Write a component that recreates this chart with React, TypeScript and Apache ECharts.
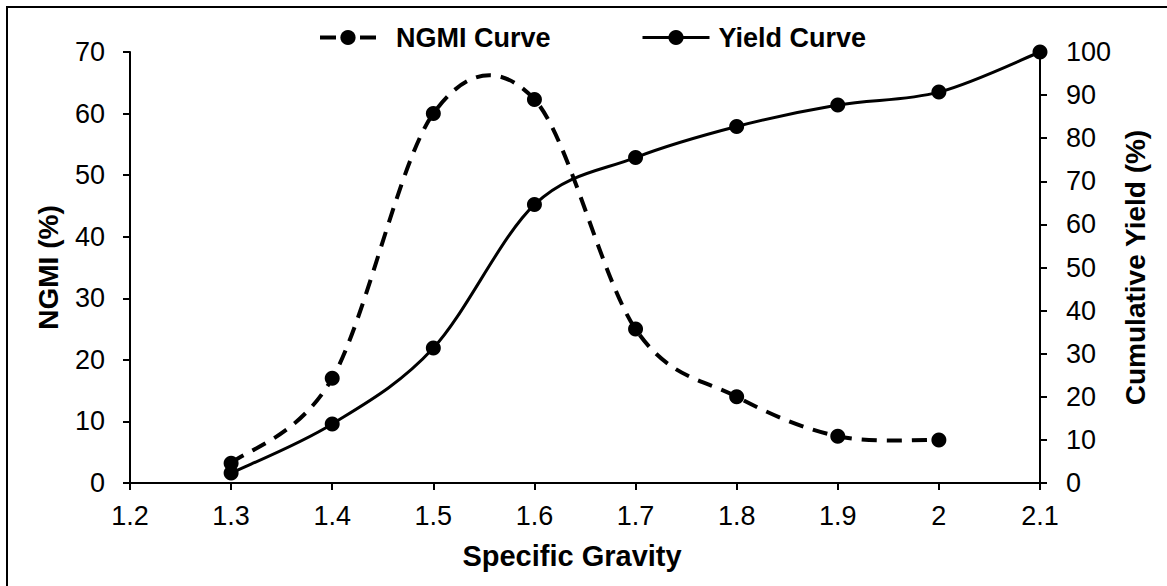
import React, { useEffect, useRef } from "react";
import * as echarts from "echarts";

// Specific gravity (x) values
const ngmiSG = [1.3, 1.4, 1.5, 1.6, 1.7, 1.8, 1.9, 2.0];
const yieldSG = [1.3, 1.4, 1.5, 1.6, 1.7, 1.8, 1.9, 2.0, 2.1];
// Series values
const ngmiValues = [3.2, 17, 60, 62.3, 25, 14, 7.6, 7];
const yieldValues = [2.3, 13.7, 31.3, 64.6, 75.5, 82.7, 87.7, 90.7, 100];
// Axis ranges
const xRange = { min: 1.2, max: 2.1, interval: 0.1 };
const leftRange = { min: 0, max: 70, interval: 10 };
const rightRange = { min: 0, max: 100, interval: 10 };

const FONT = "'Liberation Sans', Arial, sans-serif";

function smoothPath(pts: number[][]): string {
  let d = `M${pts[0][0]},${pts[0][1]}`;
  for (let i = 0; i < pts.length - 1; i++) {
    const p0 = pts[i - 1] || pts[i];
    const p1 = pts[i];
    const p2 = pts[i + 1];
    const p3 = pts[i + 2] || pts[i + 1];
    const c1x = p1[0] + (p2[0] - p0[0]) / 6;
    const c1y = p1[1] + (p2[1] - p0[1]) / 6;
    const c2x = p2[0] - (p3[0] - p1[0]) / 6;
    const c2y = p2[1] - (p3[1] - p1[1]) / 6;
    d += ` C${c1x},${c1y} ${c2x},${c2y} ${p2[0]},${p2[1]}`;
  }
  return d;
}

export default function App() {
  const ref = useRef<HTMLDivElement>(null);
  useEffect(() => {
    if (!ref.current) return;
    const chart = echarts.init(ref.current, undefined, { renderer: "svg" });
    const ngmiData = ngmiSG.map((x, i) => [x, ngmiValues[i]]);
    const yieldData = yieldSG.map((x, i) => [x, yieldValues[i]]);
    const tickLabel = { color: "#000", fontSize: 27, fontFamily: FONT };
    const nameStyle = { color: "#000", fontSize: 28, fontWeight: "bold" as const, fontFamily: FONT };
    const legendText = { color: "#000", fontSize: 27, fontWeight: "bold" as const, fontFamily: FONT };
    chart.setOption({
      animation: false,
      backgroundColor: "#fff",
      graphic: [
        {
          type: "rect",
          shape: { x: 7, y: 7, width: 1300, height: 700 },
          style: { fill: "none", stroke: "#000", lineWidth: 2 },
          silent: true,
        },
      ],
      legend: [
        {
          data: [
            {
              name: "NGMI Curve",
              lineStyle: { width: 4, type: [16, 24], color: "#000", opacity: 1 },
            },
          ],
          left: 313,
          top: 19,
          itemWidth: 56,
          itemHeight: 19,
          textStyle: { ...legendText, padding: [0, 0, 0, 15] },
        },
        {
          data: [
            {
              name: "Yield Curve",
              lineStyle: { width: 3, type: "solid", color: "#000", opacity: 1 },
            },
          ],
          left: 636,
          top: 19,
          itemWidth: 67,
          itemHeight: 19,
          textStyle: { ...legendText, padding: [0, 0, 0, 4] },
        },
      ],
      grid: { left: 130, right: 127, top: 52, bottom: 103, containLabel: false },
      xAxis: {
        type: "value",
        min: xRange.min,
        max: xRange.max,
        interval: xRange.interval,
        name: "Specific Gravity",
        nameLocation: "middle",
        nameGap: 58,
        nameTextStyle: { ...nameStyle, fontSize: 29, padding: [0, 26, 0, 0] },
        axisLine: { lineStyle: { color: "#000", width: 2 } },
        axisTick: { show: true, inside: false, length: 7, lineStyle: { color: "#000", width: 2 } },
        axisLabel: { ...tickLabel, margin: 19 },
        splitLine: { show: false },
      },
      yAxis: [
        {
          type: "value",
          position: "left",
          min: leftRange.min,
          max: leftRange.max,
          interval: leftRange.interval,
          name: "NGMI (%)",
          nameLocation: "middle",
          nameRotate: 90,
          nameGap: 68,
          nameTextStyle: nameStyle,
          axisLine: { show: true, lineStyle: { color: "#000", width: 2 } },
          axisTick: { show: true, inside: false, length: 7, lineStyle: { color: "#000", width: 2 } },
          axisLabel: { ...tickLabel, margin: 25 },
          splitLine: { show: false },
        },
        {
          type: "value",
          position: "right",
          min: rightRange.min,
          max: rightRange.max,
          interval: rightRange.interval,
          name: "Cumulative Yield (%)",
          nameLocation: "middle",
          nameRotate: 90,
          nameGap: 75,
          nameTextStyle: nameStyle,
          axisLine: { show: true, lineStyle: { color: "#000", width: 2 } },
          axisTick: { show: true, inside: false, length: 7, lineStyle: { color: "#000", width: 2 } },
          axisLabel: { ...tickLabel, margin: 26 },
          splitLine: { show: false },
        },
      ],
      series: [
        {
          type: "custom",
          name: "ngmi-smooth",
          coordinateSystem: "cartesian2d",
          yAxisIndex: 0,
          silent: true,
          z: 2,
          data: ngmiData,
          renderItem: (params: any, api: any) => {
            if (params.dataIndex !== 0) return null;
            const pts = ngmiSG.map((x, i) => api.coord([x, ngmiValues[i]]));
            return {
              type: "path",
              shape: { pathData: smoothPath(pts) },
              style: { fill: "none", stroke: "#000", lineWidth: 4, lineDash: [15, 10] },
            };
          },
        },
        {
          type: "custom",
          name: "yield-smooth",
          coordinateSystem: "cartesian2d",
          yAxisIndex: 1,
          silent: true,
          z: 2,
          data: yieldData,
          renderItem: (params: any, api: any) => {
            if (params.dataIndex !== 0) return null;
            const pts = yieldSG.map((x, i) => api.coord([x, yieldValues[i]]));
            return {
              type: "path",
              shape: { pathData: smoothPath(pts) },
              style: { fill: "none", stroke: "#000", lineWidth: 3 },
            };
          },
        },
        {
          type: "line",
          name: "NGMI Curve",
          yAxisIndex: 0,
          data: ngmiData,
          symbol: "circle",
          symbolSize: 15,
          showSymbol: true,
          itemStyle: { color: "#000" },
          lineStyle: { width: 0, color: "#000", type: "dashed" },
          z: 3,
        },
        {
          type: "line",
          name: "Yield Curve",
          yAxisIndex: 1,
          data: yieldData,
          symbol: "circle",
          symbolSize: 15,
          showSymbol: true,
          itemStyle: { color: "#000" },
          lineStyle: { width: 0, color: "#000" },
          z: 3,
        },
      ],
    });
    return () => chart.dispose();
  }, []);
  return (
    <div
      ref={ref}
      style={{ position: "absolute", left: 0, top: 0, width: 1167, height: 586 }}
    />
  );
}
